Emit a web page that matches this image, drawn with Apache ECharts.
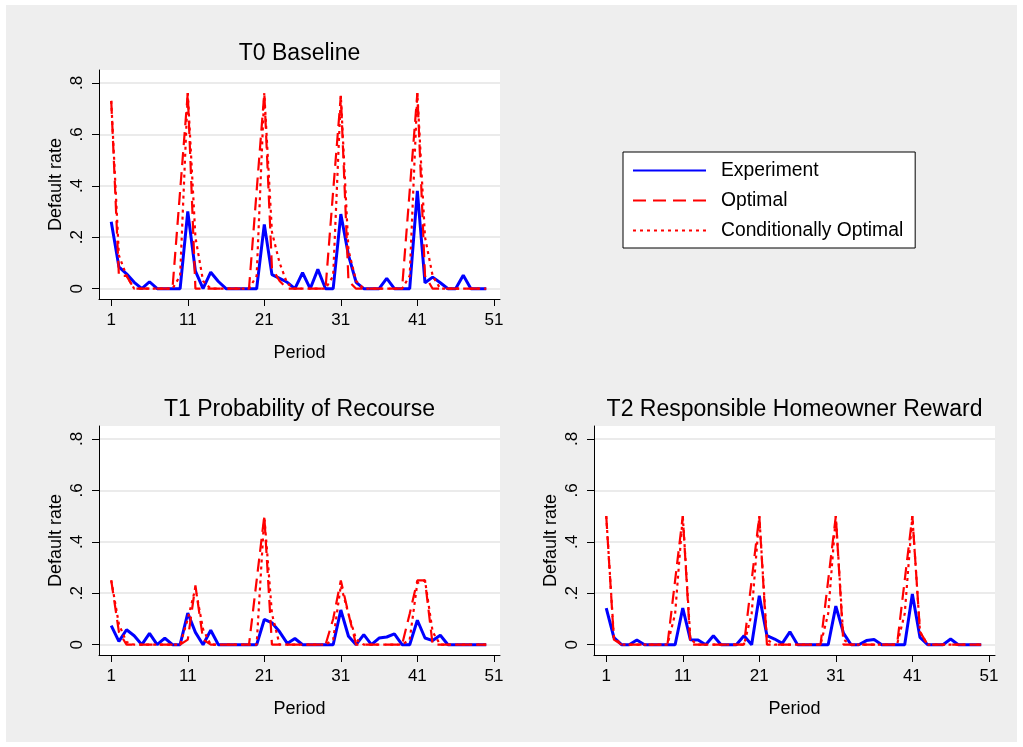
<!DOCTYPE html>
<html><head><meta charset="utf-8">
<script src="https://cdn.jsdelivr.net/npm/echarts@6/dist/echarts.min.js"></script>
<style>
html,body{margin:0;padding:0;background:#fff;}
#bg{position:absolute;left:6px;top:5px;width:1011px;height:737px;background:#eeeeee;}
#chart{position:absolute;left:0;top:0;width:1023px;height:747px;}
</style></head><body><div id="bg"></div><div id="chart"></div>
<script>
const periods = [1,2,3,4,5,6,7,8,9,10,11,12,13,14,15,16,17,18,19,20,21,22,23,24,25,26,27,28,29,30,31,32,33,34,35,36,37,38,39,40,41,42,43,44,45,46,47,48,49,50];
const xTicks = [1,11,21,31,41,51];
const yTicks = [0,0.2,0.4,0.6,0.8];
const panelTitles = ['T0 Baseline','T1 Probability of Recourse','T2 Responsible Homeowner Reward'];
const seriesNames = ['Experiment','Optimal','Conditionally Optimal'];

const t0Experiment = [0.26,0.085,0.058,0.025,0,0.027,0,0,0,0,
  0.30,0.068,0,0.064,0.028,0,0,0,0,0,
  0.25,0.055,0.04,0.025,0,0.062,0,0.075,0,0,
  0.29,0.13,0.025,0,0,0,0.04,0,0,0,
  0.38,0.023,0.045,0.023,0,0,0.052,0,0,0];
const t0Optimal = [0.73,0.05,0.05,0,0,0,0,0,0,0.38,
  0.76,0,0,0,0,0,0,0,0,0.38,
  0.76,0.08,0.03,0,0,0,0,0,0,0.38,
  0.75,0.03,0,0,0,0,0,0,0,0.38,
  0.76,0.05,0,0,0,0,0,0,0,0];
const t0Conditional = [0.73,0.13,0.05,0,0,0,0,0,0,0.05,
  0.76,0.2,0.03,0,0,0,0,0,0,0.05,
  0.76,0.22,0.1,0.02,0,0,0,0,0,0.05,
  0.75,0.15,0.03,0,0,0,0,0,0,0.05,
  0.76,0.2,0.05,0,0,0,0,0,0,0];

const t1Experiment = [0.074,0.013,0.058,0.035,0,0.044,0,0.026,0,0,
  0.123,0.048,0,0.056,0,0,0,0,0,0,
  0.098,0.085,0.05,0.005,0.024,0,0,0,0,0,
  0.135,0.033,0,0.039,0,0.026,0.03,0.042,0,0,
  0.095,0.026,0.016,0.037,0,0,0,0,0,0];
const t1Optimal = [0.25,0.05,0,0,0,0,0,0,0,0,
  0.02,0.23,0.02,0,0,0,0,0,0,0.25,
  0.5,0,0,0,0,0,0,0,0,0.1,
  0.25,0.12,0,0,0,0,0,0,0,0.12,
  0.25,0.25,0,0,0,0,0,0,0,0];
const t1Conditional = [0.25,0.08,0.01,0,0,0,0,0,0,0,
  0.1,0.22,0.06,0,0,0,0,0,0,0,
  0.5,0.12,0,0,0,0,0,0,0,0.02,
  0.23,0.12,0.02,0,0,0,0,0,0,0.02,
  0.24,0.25,0.05,0,0,0,0,0,0,0];

const t2Experiment = [0.142,0.028,0,0,0.018,0,0,0,0,0,
  0.142,0.019,0.018,0,0.035,0,0,0,0.035,0,
  0.19,0.035,0.022,0.005,0.05,0,0,0,0,0,
  0.15,0.045,0,0,0.016,0.02,0,0,0,0,
  0.197,0.028,0,0,0,0.022,0,0,0,0];
const t2Optimal = [0.5,0.02,0,0,0,0,0,0,0,0.25,
  0.5,0,0,0,0,0,0,0,0,0.25,
  0.5,0,0,0,0,0,0,0,0,0.25,
  0.5,0,0,0,0,0,0,0,0,0.25,
  0.5,0.05,0,0,0,0,0,0,0,0];
const t2Conditional = [0.5,0.03,0,0,0,0,0,0,0,0.12,
  0.5,0.02,0,0,0,0,0,0,0,0.12,
  0.5,0.02,0,0,0,0,0,0,0,0.12,
  0.5,0.02,0,0,0,0,0,0,0,0.12,
  0.5,0.05,0,0,0,0,0,0,0,0];

const FONT = '"Liberation Sans", Arial, Helvetica, sans-serif';
const panels = [
  {title: panelTitles[0], grid: {left: 99, top: 70, width: 401, height: 229}, data: [t0Experiment, t0Optimal, t0Conditional]},
  {title: panelTitles[1], grid: {left: 99, top: 426, width: 401, height: 229}, data: [t1Experiment, t1Optimal, t1Conditional]},
  {title: panelTitles[2], grid: {left: 594, top: 426, width: 401, height: 229}, data: [t2Experiment, t2Optimal, t2Conditional]}
];
const lineStyles = [
  {color: '#0000ff', width: 3, type: 'solid'},
  {color: '#ff0000', width: 2.2, type: [13, 7]},
  {color: '#ff0000', width: 2.2, type: [3, 4]}
];

const option = {
  backgroundColor: 'transparent',
  animation: false,
  textStyle: {fontFamily: FONT},
  title: panels.map(p => ({
    text: p.title,
    left: p.grid.left + p.grid.width / 2,
    top: p.grid.top - 28,
    textAlign: 'center',
    padding: 0,
    textStyle: {fontSize: 23, fontWeight: 'normal', color: '#000', fontFamily: FONT}
  })),
  legend: {
    data: seriesNames,
    orient: 'vertical',
    left: 623, top: 152,
    itemWidth: 73, itemHeight: 20, itemGap: 11,
    padding: [9, 12, 8, 9],
    backgroundColor: '#fff',
    borderColor: '#000', borderWidth: 1, borderRadius: 0,
    itemStyle: {opacity: 0},
    textStyle: {fontSize: 19.3, color: '#000', fontFamily: FONT, padding: [0, 0, 0, 10]}
  },
  grid: panels.map(p => Object.assign({backgroundColor: '#fff', show: true, borderWidth: 0, containLabel: false, outerBoundsMode: 'none'}, p.grid)),
  xAxis: panels.map((p, i) => ({
    type: 'value', gridIndex: i, min: -0.6, max: 51.8,
    name: 'Period', nameLocation: 'middle', nameGap: 45,
    nameTextStyle: {fontSize: 18, color: '#000', fontFamily: FONT},
    axisLine: {show: true, onZero: false, lineStyle: {color: '#000', width: 1}},
    axisTick: {show: true, length: 7, customValues: xTicks, lineStyle: {color: '#000'}},
    axisLabel: {customValues: xTicks, margin: 13, fontSize: 17, color: '#000', fontFamily: FONT},
    splitLine: {show: false}
  })),
  yAxis: panels.map((p, i) => ({
    type: 'value', gridIndex: i, min: -0.04, max: 0.85,
    name: 'Default rate', nameLocation: 'middle', nameGap: 34,
    nameTextStyle: {fontSize: 18, color: '#000', fontFamily: FONT},
    axisLine: {show: true, onZero: false, lineStyle: {color: '#000', width: 1}},
    axisTick: {show: true, length: 7, customValues: yTicks, lineStyle: {color: '#000'}},
    axisLabel: {customValues: yTicks, rotate: 90, margin: 13, fontSize: 17, color: '#000', fontFamily: FONT,
      formatter: v => v === 0 ? '0' : String(+v.toFixed(1)).replace(/^0/, '')},
    splitLine: {show: true, lineStyle: {color: '#e4e4e4', width: 1.5}}
  })),
  series: []
};
panels.forEach((p, i) => {
  p.data.forEach((vals, k) => {
    option.series.push({
      name: seriesNames[k], type: 'line', xAxisIndex: i, yAxisIndex: i,
      symbol: 'none', z: 2 + k,
      lineStyle: lineStyles[k], itemStyle: {color: lineStyles[k].color},
      data: periods.map((x, j) => [x, vals[j]])
    });
  });
});
const chart = echarts.init(document.getElementById('chart'), null, {renderer: 'canvas'});
chart.setOption(option);
</script></body></html>
